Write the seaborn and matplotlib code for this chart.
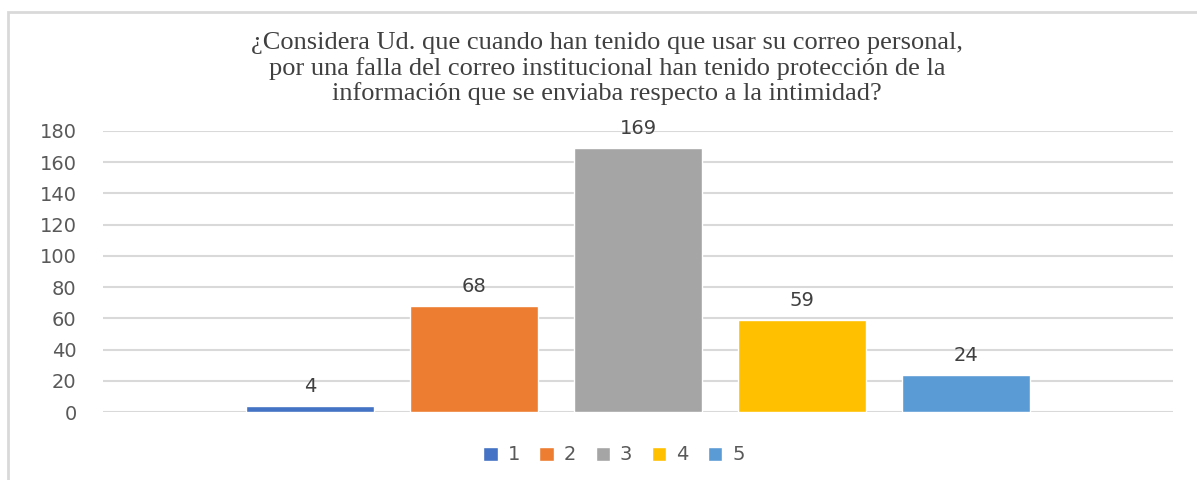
import matplotlib
matplotlib.use("Agg")
import matplotlib.pyplot as plt
import seaborn as sns
import pandas as pd
from matplotlib.patches import Rectangle

categories = ["1", "2", "3", "4", "5"]
values = [4, 68, 169, 59, 24]
colors = ["#4472C4", "#ED7D31", "#A5A5A5", "#FFC000", "#5B9BD5"]
yticks = [0, 20, 40, 60, 80, 100, 120, 140, 160, 180]
title_lines = ["¿Considera Ud. que cuando han tenido que usar su correo personal,",
               "por una falla del correo institucional han tenido protección de la",
               "información que se enviaba respecto a la intimidad?"]

sns.set_theme(style="white")
plt.rcParams['font.family'] = ['DejaVu Sans']

df = pd.DataFrame({"cat": categories, "val": values})

fig = plt.figure(figsize=(11.97, 4.80), dpi=100)
ax = fig.add_axes([103/1197, 1-412/480, (1173-103)/1197, (412-131)/480])

sns.barplot(data=df, x="cat", y="val", hue="cat", palette=colors, width=0.78,
            ax=ax, legend=True, saturation=1)

ax.set_xlim(-1.262, 5.262)
ax.set_ylim(0, 180)
ax.set_yticks(yticks)
ax.set_yticklabels([str(t) for t in yticks], fontsize=14, color="#595959")
ax.set_xticks([])
ax.set_xlabel("")
ax.set_ylabel("")
ax.yaxis.grid(True, color="#D9D9D9", linewidth=1.5)
ax.set_axisbelow(True)
for s in ax.spines.values():
    s.set_visible(False)
ax.tick_params(axis="y", length=0, pad=19)

for c in ax.containers:
    ax.bar_label(c, padding=7, fontsize=14, color="#404040")

handles, labels = ax.get_legend_handles_labels()
ax.get_legend().remove()
fig.legend(handles, labels, loc="center", bbox_to_anchor=(614/1197, 1-455/480),
           ncol=5, frameon=False, fontsize=14, handlelength=0.75, handleheight=0.75,
           handletextpad=0.5, columnspacing=1.0, labelcolor="#595959")

for i, base in enumerate([49, 75, 100]):
    fig.text(607/1197, 1-base/480, title_lines[i], ha="center", va="baseline",
             fontsize=19, family="Liberation Serif", color="#404040")

fig.patches.append(Rectangle((8/1197, -0.1), 1.2, 1-12/480+0.1, transform=fig.transFigure,
                             fill=False, edgecolor="#D9D9D9", linewidth=2))

fig.savefig("out.png", dpi=100)
